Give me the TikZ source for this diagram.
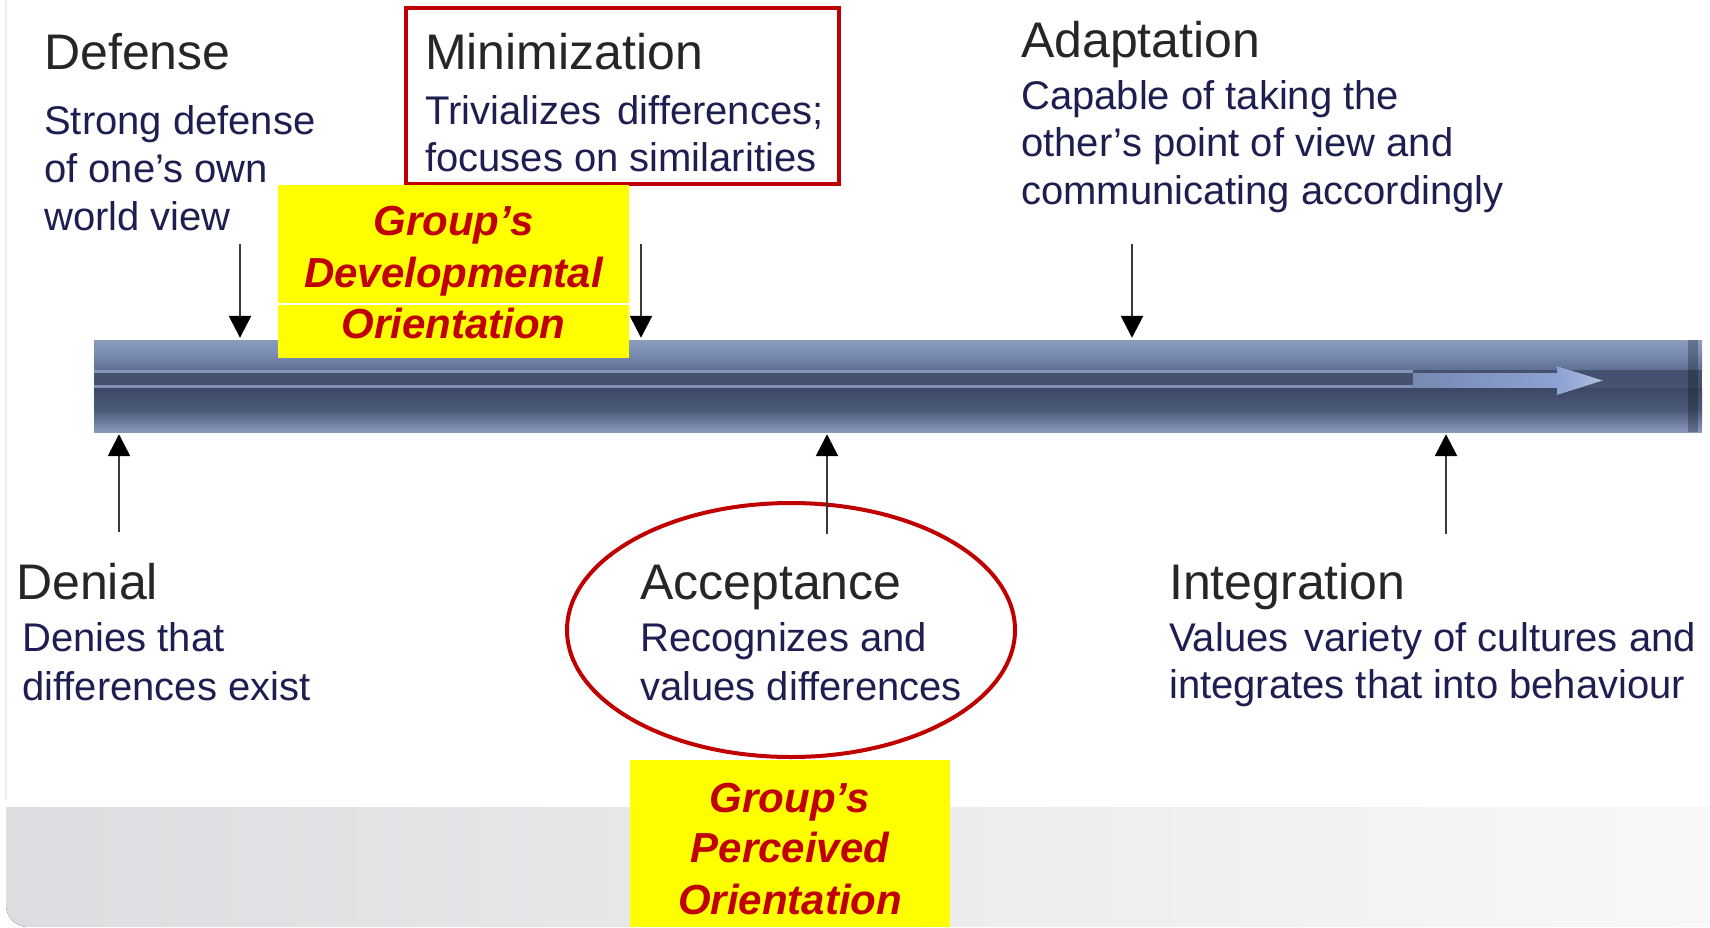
\documentclass[tikz,border=0pt]{standalone}
\usepackage{fontspec}
\setmainfont{Liberation Sans}
\usetikzlibrary{arrows.meta,shapes.geometric}
\definecolor{cTitle}{HTML}{262626}
\definecolor{cBody}{HTML}{1E1E50}
\definecolor{cRed}{HTML}{C00000}
\definecolor{cYel}{HTML}{FFFF00}
\definecolor{cBandL}{HTML}{DCDDE0}
\definecolor{cBandR}{HTML}{F8F8F9}
\definecolor{cShaft}{HTML}{8CA2D2}
\definecolor{cPtr}{HTML}{3A3A3A}
\definecolor{bA}{RGB}{138,155,190}
\definecolor{bB}{RGB}{122,140,177}
\definecolor{bC}{RGB}{93,110,146}
\definecolor{bD}{RGB}{69,82,111}
\definecolor{bL1}{RGB}{134,150,184}
\definecolor{bL2}{RGB}{128,144,178}
\definecolor{bE}{RGB}{60,72,101}
\definecolor{bF}{RGB}{76,90,122}
\definecolor{bG}{RGB}{135,153,189}
\begin{document}
\begin{tikzpicture}[x=1pt,y=-1pt,
  ttl/.style={font=\fontsize{50}{60}\selectfont, text=cTitle, anchor=base west, inner sep=0pt},
  bdy/.style={font=\fontsize{40}{48}\selectfont, text=cBody, anchor=base west, inner sep=0pt},
  grp/.style={font=\fontsize{42}{50}\selectfont\bfseries\itshape, text=cRed, anchor=base, inner sep=0pt},
  hl/.style={fill=cYel, inner sep=0pt},
  ptr/.style={draw=cPtr, line width=2.6pt, -{Triangle[width=22pt,length=22pt,fill=black,color=black]}}]
\useasboundingbox (0,0) rectangle (1710,927);
\fill[white] (0,0) rectangle (1710,927);
% bottom band
\begin{scope}
  \clip[rounded corners=22pt] (6,700) rectangle (1760,927);
  \fill[left color=cBandL, right color=cBandR] (6,807) rectangle (1710,927);
\end{scope}
\draw[gray!15, line width=1.5pt] (6,0) -- (6,800);
% bar
\node[inner sep=0pt, minimum width=1608pt, minimum height=92pt] (bar) at (898,386) {};
\fill[top color=bA, bottom color=bB] (94,340) rectangle (1702,354);
\fill[top color=bB, bottom color=bC] (94,354) rectangle (1702,370.5);
\fill[bD] (94,370) rectangle (1702,388.5);
\fill[bL1] (94,370) rectangle (1413,373);
\fill[bL2] (94,385) rectangle (1413,388);
\fill[top color=bE, bottom color=bF] (94,388) rectangle (1702,410.5);
\fill[top color=bF, bottom color=bG] (94,410) rectangle (1702,432);
\fill[black, opacity=0.25] (1688,340) rectangle (1698,432);
% arrow inside bar
\fill[left color=cShaft!85!black, right color=cShaft] (1413,373.5) rectangle (1557,387.5);
\fill[left color=cShaft, right color=cShaft!70!white] (1557,366) -- (1603,380.5) -- (1557,395) -- cycle;
% red box and yellow box 1
\node[draw=cRed, line width=4pt, minimum width=433pt, minimum height=176pt, inner sep=0pt] (minbox) at (622.5,96) {};
\node[hl, minimum width=351pt, minimum height=173pt] (gdev) at (453.5,271.5) {};
\draw[white, line width=1.5pt] (gdev.west |- 0,304) -- (gdev.east |- 0,304);
% texts top
\node[ttl] (tdef) at (44,69) {Defense};
\node[bdy] (bdef1) at (44,134) {Strong defense};
\node[bdy] (bdef2) at (44,182) {of one's own};
\node[bdy] (bdef3) at (44,230) {world view};
\node[ttl] (tmin) at (425,69) {Minimization};
\node[bdy] (bmin1) at (425,124) {Trivializes\hspace{0.4em}differences;};
\node[bdy] (bmin2) at (425,171) {focuses on similarities};
\node[ttl] (tada) at (1021,57) {Adaptation};
\node[bdy] (bada1) at (1021,109) {Capable of taking the};
\node[bdy] (bada2) at (1021,156) {other's point of view and};
\node[bdy] (bada3) at (1021,204) {communicating accordingly};
\node[grp] (gd1) at (453.5,235) {Group’s};
\node[grp] (gd2) at (453.5,287) {Developmental};
\node[grp] (gd3) at (453.5,338) {Orientation};
% texts bottom
\node[ttl] (tden) at (16,599) {Denial};
\node[bdy] (bden1) at (22,651) {Denies that};
\node[bdy] (bden2) at (22,700) {differences exist};
\node[ttl] (tacc) at (640,599) {Acceptance};
\node[bdy] (bacc1) at (640,651) {Recognizes and};
\node[bdy] (bacc2) at (640,700) {values differences};
\node[ttl] (tint) at (1169,599) {Integration};
\node[bdy] (bint1) at (1169,651) {Values\hspace{0.4em}variety of cultures and};
\node[bdy] (bint2) at (1169,698) {integrates that into behaviour};
% ellipse
\node[ellipse, draw=cRed, line width=4pt, minimum width=448pt, minimum height=254pt, inner sep=0pt] (accell) at (791,630) {};
% yellow box 2
\node[hl, minimum width=320pt, minimum height=167pt] (gper) at (790,843.5) {};
\node[grp] (gp1) at (790,812) {Group’s};
\node[grp] (gp2) at (790,862) {Perceived};
\node[grp] (gp3) at (790,914) {Orientation};
% pointers
\coordinate (d1) at (240,244);
\coordinate (d2) at (641,244);
\coordinate (d3) at (1132,244);
\coordinate (u1) at (119,532);
\coordinate (u2) at (827,534);
\coordinate (u3) at (1446,534);
\draw[ptr] (d1) -- ([yshift=2pt]d1 |- bar.north);
\draw[ptr] (d2) -- ([yshift=2pt]d2 |- bar.north);
\draw[ptr] (d3) -- ([yshift=2pt]d3 |- bar.north);
\draw[ptr] (u1) -- ([yshift=-2pt]u1 |- bar.south);
\draw[ptr] (u2) -- ([yshift=-2pt]u2 |- bar.south);
\draw[ptr] (u3) -- ([yshift=-2pt]u3 |- bar.south);
\end{tikzpicture}
\end{document}
